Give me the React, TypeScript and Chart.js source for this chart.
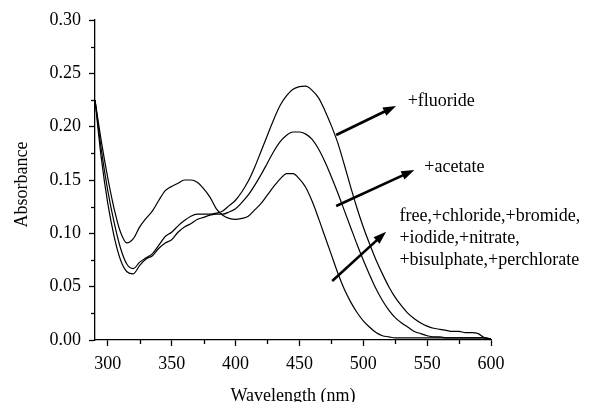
import React, { useEffect, useRef } from "react";
import { Chart, registerables } from "chart.js";

Chart.register(...registerables);

// Wavelength grid (nm)
const wavelengths = [
  290, 295, 300, 305, 310, 315, 320, 325, 330, 335, 340, 345, 350, 355, 360, 365,
  370, 375, 380, 385, 390, 395, 400, 405, 410, 415, 420, 425, 430, 435, 440, 445,
  450, 455, 460, 465, 470, 475, 480, 485, 490, 495, 500, 505, 510, 515, 520, 525,
  530, 535, 540, 545, 550, 555, 560, 565, 570, 575, 580, 585, 590, 595, 600,
];

// +fluoride
const fluoride = [
  0.225, 0.178, 0.14, 0.11, 0.086, 0.071, 0.067, 0.073, 0.077, 0.081, 0.089, 0.097, 0.101, 0.107, 0.112, 0.116,
  0.118, 0.118, 0.118, 0.119, 0.121, 0.126, 0.131, 0.139, 0.149, 0.162, 0.177, 0.192, 0.207, 0.22, 0.229, 0.235,
  0.2375, 0.238, 0.234, 0.227, 0.215, 0.201, 0.185, 0.165, 0.144, 0.124, 0.106, 0.09, 0.075, 0.062, 0.05, 0.04,
  0.032, 0.025, 0.02, 0.016, 0.013, 0.011, 0.01, 0.009, 0.008, 0.008, 0.007, 0.007, 0.006, 0.002, 0.001,
];

// +acetate
const acetate = [
  0.225, 0.17, 0.128, 0.097, 0.075, 0.064, 0.062, 0.07, 0.076, 0.079, 0.086, 0.091, 0.094, 0.101, 0.106, 0.109,
  0.113, 0.115, 0.117, 0.118, 0.118, 0.12, 0.123, 0.129, 0.136, 0.145, 0.155, 0.166, 0.177, 0.186, 0.192, 0.195,
  0.195, 0.193, 0.188, 0.179, 0.167, 0.153, 0.138, 0.122, 0.106, 0.09, 0.075, 0.061, 0.048, 0.037, 0.028, 0.021,
  0.016, 0.012, 0.008, 0.006, 0.004, 0.003, 0.003, 0.002, 0.002, 0.002, 0.002, 0.002, 0.002, 0.002, 0.001,
];

// free, +chloride, +bromide, +iodide, +nitrate, +bisulphate, +perchlorate
const freeLigand = [
  0.225, 0.186, 0.152, 0.123, 0.101, 0.091, 0.095, 0.106, 0.114, 0.121, 0.131, 0.14, 0.144, 0.147, 0.15, 0.15,
  0.148, 0.142, 0.134, 0.123, 0.117, 0.114, 0.113, 0.114, 0.116, 0.122, 0.128, 0.136, 0.144, 0.151, 0.156, 0.156,
  0.151, 0.143, 0.13, 0.114, 0.097, 0.08, 0.063, 0.048, 0.036, 0.026, 0.018, 0.012, 0.007, 0.004, 0.003, 0.002,
  0.002, 0.002, 0.002, 0.002, 0.002, 0.002, 0.002, 0.002, 0.002, 0.002, 0.002, 0.002, 0.002, 0.002, 0.001,
];

const seriesNames = ["+fluoride", "+acetate", "free"];

const xMinorTicks = [325, 375, 425, 475, 525, 575];
const yMinorTicks = [0.025, 0.075, 0.125, 0.175, 0.225, 0.275];

// Annotation arrows (data coordinates: wavelength, absorbance)
const arrowFrom = [
  [478.8, 0.1922],
  [478.8, 0.1256],
  [475.7, 0.0553],
];
const arrowTo = [
  [525.7, 0.2194],
  [540.0, 0.1594],
  [517.9, 0.1015],
];

// Annotation texts and anchors (data coordinates of first line's baseline start)
const noteTexts = [
  ["+fluoride"],
  ["+acetate"],
  ["free,+chloride,+bromide,", "+iodide,+nitrate,", "+bisulphate,+perchlorate"],
];
const noteAnchors = [
  [534.8, 0.2194],
  [547.8, 0.1575],
  [528.3, 0.1118],
];

const FONT = '"Liberation Serif", "Times New Roman", Times, serif';

const decorPlugin = {
  id: "decor",
  afterDraw(chart: any) {
    const { ctx } = chart;
    const x = chart.scales.x;
    const y = chart.scales.y;
    ctx.save();
    ctx.strokeStyle = "#000";
    ctx.fillStyle = "#000";
    // minor ticks
    ctx.lineWidth = 1.3;
    for (const v of yMinorTicks) {
      const py = Math.round(y.getPixelForValue(v)) + 0.5;
      ctx.beginPath();
      ctx.moveTo(y.right - 4, py);
      ctx.lineTo(y.right, py);
      ctx.stroke();
    }
    for (const v of xMinorTicks) {
      const px = Math.round(x.getPixelForValue(v)) + 0.5;
      ctx.beginPath();
      ctx.moveTo(px, x.top);
      ctx.lineTo(px, x.top + 4);
      ctx.stroke();
    }
    // arrows
    for (let i = 0; i < arrowFrom.length; i++) {
      const x0 = x.getPixelForValue(arrowFrom[i][0]);
      const y0 = y.getPixelForValue(arrowFrom[i][1]);
      const x1 = x.getPixelForValue(arrowTo[i][0]);
      const y1 = y.getPixelForValue(arrowTo[i][1]);
      const ang = Math.atan2(y1 - y0, x1 - x0);
      const headLen = 13;
      const headHalf = 4.5;
      const bx = x1 - headLen * Math.cos(ang);
      const by = y1 - headLen * Math.sin(ang);
      ctx.lineWidth = 2.6;
      ctx.beginPath();
      ctx.moveTo(x0, y0);
      ctx.lineTo(bx + 2 * Math.cos(ang), by + 2 * Math.sin(ang));
      ctx.stroke();
      ctx.beginPath();
      ctx.moveTo(x1, y1);
      ctx.lineTo(bx + headHalf * Math.sin(ang), by - headHalf * Math.cos(ang));
      ctx.lineTo(bx - headHalf * Math.sin(ang), by + headHalf * Math.cos(ang));
      ctx.closePath();
      ctx.fill();
    }
    // texts
    ctx.font = `18px ${FONT}`;
    ctx.textAlign = "left";
    ctx.textBaseline = "alphabetic";
    for (let i = 0; i < noteTexts.length; i++) {
      const px = x.getPixelForValue(noteAnchors[i][0]);
      const py = y.getPixelForValue(noteAnchors[i][1]);
      noteTexts[i].forEach((line, j) => ctx.fillText(line, px, py + j * 22.2));
    }
    ctx.restore();
  },
};

export default function App() {
  const ref = useRef<HTMLCanvasElement | null>(null);

  useEffect(() => {
    document.body.style.margin = "0";
    const canvas = ref.current!;
    const mk = (arr: number[]) => wavelengths.map((w, i) => ({ x: w, y: arr[i] }));
    const chart = new Chart(canvas, {
      type: "line",
      data: {
        datasets: [fluoride, acetate, freeLigand].map((arr, i) => ({
          label: seriesNames[i],
          data: mk(arr),
          borderColor: "#000",
          borderWidth: 1.2,
          pointRadius: 0,
          fill: false,
          cubicInterpolationMode: "monotone" as const,
        })),
      },
      options: {
        animation: false,
        responsive: false,
        devicePixelRatio: 1,
        layout: { padding: { left: 0, top: 20, right: 99, bottom: 0 } },
        plugins: { legend: { display: false }, tooltip: { enabled: false } },
        scales: {
          x: {
            type: "linear",
            min: 290,
            max: 600,
            afterFit: (s: any) => {
              s.height = 62;
            },
            ticks: {
              stepSize: 50,
              includeBounds: false,
              padding: 7,
              color: "#000",
              font: { family: FONT, size: 18 },
              maxRotation: 0,
              callback: (v: any) => String(v),
            },
            grid: {
              display: true,
              drawOnChartArea: false,
              color: "#000",
              tickLength: 6,
              tickWidth: 1.3,
            },
            border: { display: true, color: "#000", width: 1.3 },
            title: {
              display: true,
              text: "Wavelength (nm)",
              color: "#000",
              font: { family: FONT, size: 18, lineHeight: 0.6 },
              padding: { top: 0, bottom: 0 },
            },
          },
          y: {
            type: "linear",
            min: 0,
            max: 0.3,
            afterFit: (s: any) => {
              s.width = 95;
            },
            ticks: {
              stepSize: 0.05,
              padding: 8,
              color: "#000",
              font: { family: FONT, size: 18 },
              callback: (v: any) => Number(v).toFixed(2),
            },
            grid: {
              display: true,
              drawOnChartArea: false,
              color: "#000",
              tickLength: 6,
              tickWidth: 1.3,
            },
            border: { display: true, color: "#000", width: 1.3 },
            title: {
              display: true,
              text: "Absorbance  ",
              color: "#000",
              font: { family: FONT, size: 18 },
              padding: { top: 11, bottom: 0 },
            },
          },
        },
      },
      plugins: [decorPlugin],
    });
    return () => chart.destroy();
  }, []);

  return (
    <div style={{ position: "absolute", left: 0, top: 0, width: 590, height: 402 }}>
      <canvas ref={ref} width={590} height={402} />
    </div>
  );
}
